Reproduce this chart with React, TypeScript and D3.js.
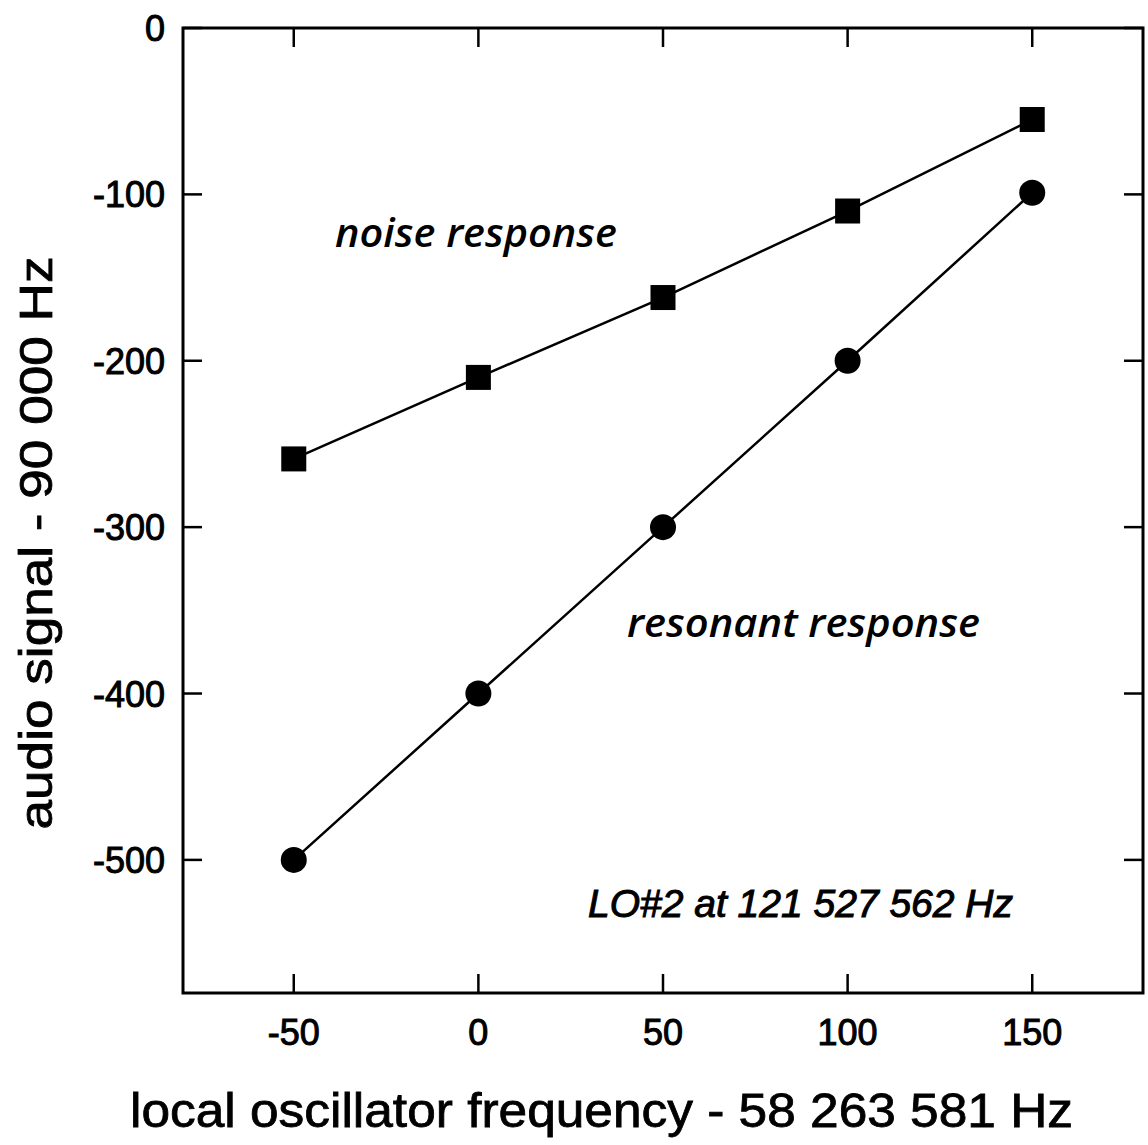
import React from "react";
import * as d3 from "d3";

const frequencies = [-50, 0, 50, 100, 150];
const noiseResponse = [-259, -210, -162, -110, -55];
const resonantResponse = [-500, -400, -300, -200, -99];
const xTicks = [-50, 0, 50, 100, 150];
const yTicks = [0, -100, -200, -300, -400, -500];
const xTitle = "local oscillator frequency - 58 263 581 Hz";
const yTitle = "audio signal - 90 000 Hz";
const noiseLabel = "noise response";
const resonantLabel = "resonant response";
const loLabel = "LO#2 at 121 527 562 Hz";

const W = 1148;
const H = 1145;
const L = 183, R = 1143, T = 28, B = 993;

export default function App() {
  const x = d3.scaleLinear().domain([-80, 180]).range([L, R]);
  const y = d3.scaleLinear().domain([-580, 0]).range([B, T]);
  const line = d3.line<number>().x((_, i) => x(frequencies[i])).y((d) => y(d));
  const arial = "'Liberation Sans', Arial, sans-serif";
  const italicFont = "'Open Sans', sans-serif";
  const tickLen = 19;
  const sq = 25;
  return (
    <svg width={W} height={H} style={{ position: "absolute", left: 0, top: 0, background: "#fff" }}>
      <rect x={L} y={T} width={R - L} height={B - T} fill="none" stroke="#000" strokeWidth={3} />
      {xTicks.map((t) => (
        <g key={"xt" + t}>
          <line x1={x(t)} x2={x(t)} y1={B} y2={B - tickLen} stroke="#000" strokeWidth={2.5} />
          <line x1={x(t)} x2={x(t)} y1={T} y2={T + tickLen} stroke="#000" strokeWidth={2.5} />
          <text x={x(t)} y={1045} textAnchor="middle" fontFamily={arial} fontSize={36} fill="#000" stroke="#000" strokeWidth={1}>
            {t}
          </text>
        </g>
      ))}
      {yTicks.map((t) => (
        <g key={"yt" + t}>
          <line x1={L} x2={L + tickLen} y1={y(t)} y2={y(t)} stroke="#000" strokeWidth={2.5} />
          <line x1={R} x2={R - tickLen} y1={y(t)} y2={y(t)} stroke="#000" strokeWidth={2.5} />
          <text x={165} y={y(t) + 13} textAnchor="end" fontFamily={arial} fontSize={36} fill="#000" stroke="#000" strokeWidth={1}>
            {t}
          </text>
        </g>
      ))}
      <path d={line(noiseResponse) || ""} fill="none" stroke="#000" strokeWidth={2.5} />
      <path d={line(resonantResponse) || ""} fill="none" stroke="#000" strokeWidth={2.5} />
      {noiseResponse.map((v, i) => (
        <rect key={"n" + i} x={x(frequencies[i]) - sq / 2} y={y(v) - sq / 2} width={sq} height={sq} fill="#000" />
      ))}
      {resonantResponse.map((v, i) => (
        <circle key={"r" + i} cx={x(frequencies[i])} cy={y(v)} r={13} fill="#000" />
      ))}
      <text x={335} y={247} fontFamily={italicFont} fontStyle="italic" fontWeight={600} fontSize={40} textLength={282} lengthAdjust="spacingAndGlyphs" fill="#000">
        {noiseLabel}
      </text>
      <text x={627} y={637} fontFamily={italicFont} fontStyle="italic" fontWeight={600} fontSize={40} textLength={353} lengthAdjust="spacingAndGlyphs" fill="#000">
        {resonantLabel}
      </text>
      <text x={588} y={917} fontFamily={arial} fontStyle="italic" fontSize={39} textLength={425} lengthAdjust="spacingAndGlyphs" fill="#000" stroke="#000" strokeWidth={1}>
        {loLabel}
      </text>
      <text x={130} y={1127} fontFamily={arial} fontSize={48} textLength={943} lengthAdjust="spacingAndGlyphs" fill="#000" stroke="#000" strokeWidth={0.8}>
        {xTitle}
      </text>
      <text transform="translate(52,543) rotate(-90)" textAnchor="middle" fontFamily={arial} fontSize={46} textLength={573} lengthAdjust="spacingAndGlyphs" fill="#000" stroke="#000" strokeWidth={0.8}>
        {yTitle}
      </text>
    </svg>
  );
}
